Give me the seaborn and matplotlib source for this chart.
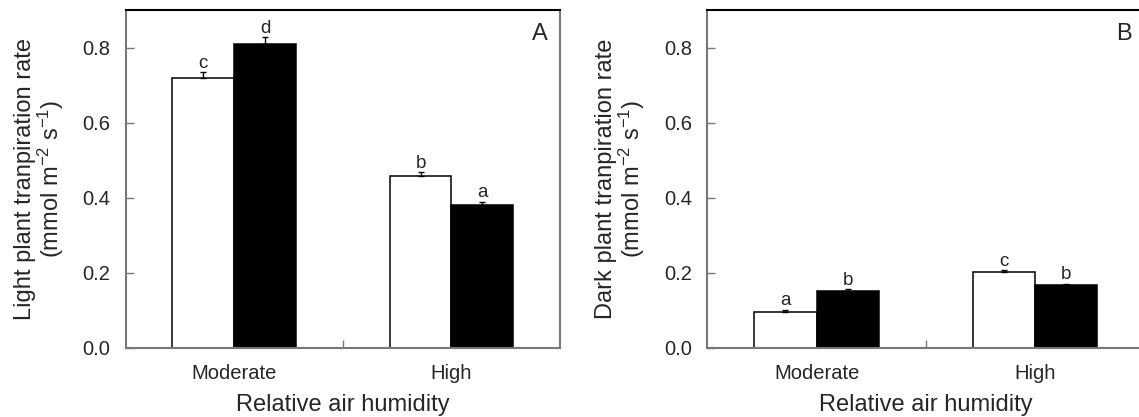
import numpy as np
import pandas as pd
import matplotlib
matplotlib.use("Agg")
import matplotlib.pyplot as plt
import seaborn as sns

# ---- data ----
humidity = ["Moderate", "High"]
treatments = ["T1", "T2"]          # white, black bars
light_t1 = [0.72, 0.457]
light_t2 = [0.809, 0.379]
light_t1_err = [0.014, 0.011]
light_t2_err = [0.018, 0.010]
light_t1_let = ["c", "b"]
light_t2_let = ["d", "a"]

dark_t1 = [0.096, 0.201]
dark_t2 = [0.150, 0.166]
dark_t1_err = [0.005, 0.005]
dark_t2_err = [0.006, 0.004]
dark_t1_let = ["a", "c"]
dark_t2_let = ["b", "b"]

yticks = [0.0, 0.2, 0.4, 0.6, 0.8]

sns.set_theme(style="white")
plt.rcParams["font.family"] = ["Liberation Sans", "DejaVu Sans"]
plt.rcParams["mathtext.fontset"] = "custom"
plt.rcParams["mathtext.rm"] = "Liberation Sans"
plt.rcParams["mathtext.it"] = "Liberation Sans:italic"

fig = plt.figure(figsize=(11.39, 4.17), dpi=100)
axA = fig.add_axes([0.1104, 0.1662, 0.3813, 0.8098])
axB = fig.add_axes([0.6210, 0.1662, 0.3837, 0.8098])

grey = "#777777"


def panel(ax, t1, t2, e1, e2, l1, l2, ylabel, letter):
    df = pd.DataFrame({
        "humidity": humidity * 2,
        "treatment": [treatments[0]] * 2 + [treatments[1]] * 2,
        "value": list(t1) + list(t2),
    })
    sns.barplot(data=df, x="humidity", y="value", hue="treatment",
                order=humidity, hue_order=treatments,
                palette=["white", "black"], edgecolor="black", linewidth=1.1,
                width=0.57, gap=0, errorbar=None, legend=False, ax=ax,
                saturation=1)
    errs = list(e1) + list(e2)
    lets = list(l1) + list(l2)
    bars = [p for p in ax.patches]
    for p, e, lt in zip(bars, errs, lets):
        x = p.get_x() + p.get_width() / 2
        h = p.get_height()
        ax.errorbar([x], [h], yerr=[[0], [e]], fmt="none", ecolor="black",
                    elinewidth=1.0, capsize=2.5, capthick=1.0)
        ax.text(x, h + e + 0.012, lt, ha="center", va="baseline", fontsize=13.5)
    ax.set_xlim(-0.5, 1.5)
    ax.set_ylim(0, 0.9)
    ax.set_yticks(yticks)
    ax.set_yticklabels([f"{v:.1f}" for v in yticks])
    ax.set_xticks([0, 1])
    ax.set_xticklabels(humidity)
    ax.set_xticks([0.5], minor=True)
    ax.tick_params(axis="x", which="major", length=0, pad=12, labelsize=14.5)
    ax.tick_params(axis="x", which="minor", direction="in", length=6,
                   color=grey, width=1.0, bottom=True)
    ax.tick_params(axis="y", which="major", direction="in", length=6,
                   color=grey, width=1.0, pad=11, labelsize=14.5, left=True)
    for s in ["left", "bottom", "right"]:
        ax.spines[s].set_color(grey)
        ax.spines[s].set_linewidth(1.5)
    ax.spines["top"].set_color("black")
    ax.spines["top"].set_linewidth(1.5)
    for s in ax.spines.values():
        s.set_visible(True)
    ax.set_xlabel("Relative air humidity", fontsize=17, labelpad=8)
    ax.set_ylabel(ylabel + "\n(mmol m$^{-2}$ s$^{-1}$)", fontsize=17,
                  labelpad=12, linespacing=1.0)
    ax.text(0.953, 0.91, letter, transform=ax.transAxes, ha="center",
            va="baseline", fontsize=17)


panel(axA, light_t1, light_t2, light_t1_err, light_t2_err,
      light_t1_let, light_t2_let, "Light plant tranpiration rate", "A")
panel(axB, dark_t1, dark_t2, dark_t1_err, dark_t2_err,
      dark_t1_let, dark_t2_let, "Dark plant tranpiration rate", "B")

fig.savefig("out.png", dpi=100)
